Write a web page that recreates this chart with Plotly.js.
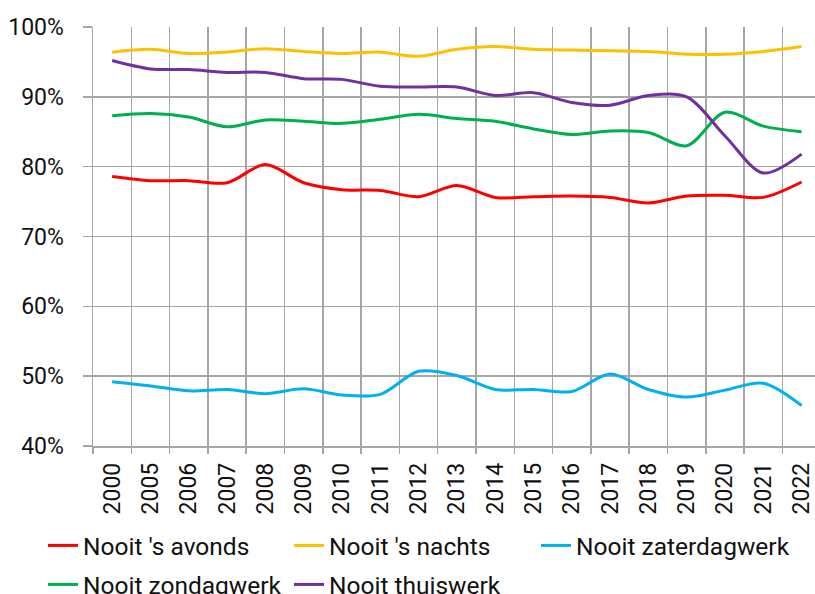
<!DOCTYPE html>
<html>
<head>
<meta charset="utf-8">
<script src="https://cdn.plot.ly/plotly-3.0.1.min.js"></script>
<style>
  html, body { margin: 0; padding: 0; overflow: hidden; background: #fff; }
  #chart { width: 815px; height: 594px; }
</style>
</head>
<body>
<div id="chart"></div>
<script>
// jaren (categorieen op de x-as)
let jaren = ['2000','2005','2006','2007','2008','2009','2010','2011','2012','2013',
             '2014','2015','2016','2017','2018','2019','2020','2021','2022'];

// percentages per reeks
let nooitAvonds = [78.6, 78.0, 78.0, 77.7, 80.3, 77.7, 76.7, 76.6, 75.7, 77.3,
                   75.6, 75.7, 75.8, 75.6, 74.8, 75.8, 75.9, 75.6, 77.8];
let nooitNachts = [96.4, 96.8, 96.2, 96.4, 96.9, 96.5, 96.2, 96.4, 95.8, 96.8,
                   97.2, 96.8, 96.7, 96.6, 96.5, 96.1, 96.1, 96.5, 97.2];
let nooitZaterdag = [49.2, 48.6, 47.9, 48.1, 47.5, 48.2, 47.3, 47.4, 50.7, 50.1,
                     48.1, 48.1, 47.8, 50.3, 48.1, 47.0, 48.0, 49.0, 45.8];
let nooitZondag = [87.3, 87.6, 87.1, 85.7, 86.7, 86.5, 86.2, 86.8, 87.5, 86.9,
                   86.5, 85.4, 84.6, 85.1, 84.9, 83.0, 87.8, 85.8, 85.0];
let nooitThuis = [95.2, 94.0, 93.9, 93.5, 93.5, 92.6, 92.5, 91.5, 91.4, 91.4,
                  90.2, 90.6, 89.2, 88.8, 90.2, 90.0, 84.4, 79.1, 81.8];

let namen = ["Nooit 's avonds", "Nooit 's nachts", "Nooit zaterdagwerk", "Nooit zondagwerk", "Nooit thuiswerk"];
let kleuren = ['#FF0000', '#FFC000', '#00B0F0', '#00B050', '#7030A0'];
let reeksen = [nooitAvonds, nooitNachts, nooitZaterdag, nooitZondag, nooitThuis];

// legenda-posities (linkerkant in px, bovenkant in px)
let legX = [43, 289, 536, 43, 289];
let legY = [523, 523, 523, 562, 562];

let grijs = '#A6A6A6';
let font = 'Roboto, Arial, sans-serif';

let traces = [];
for (let i = 0; i < reeksen.length; i++) {
    traces.push({
        x: jaren,
        y: reeksen[i],
        name: namen[i],
        type: 'scatter',
        mode: 'lines',
        line: {color: kleuren[i], width: 3, shape: 'spline', smoothing: 0.9},
        legend: i == 0 ? 'legend' : 'legend' + (i + 1)
    });
}

let layout = {
    width: 815,
    height: 594,
    paper_bgcolor: '#fff',
    plot_bgcolor: '#fff',
    showlegend: true,
    font: {family: font, color: '#111', size: 23},
    margin: {l: 93, r: 0, t: 27, b: 148, pad: 0, autoexpand: false},
    xaxis: {
        type: 'category',
        range: [-0.5, 18.35],
        tickson: 'boundaries',
        showgrid: true,
        gridcolor: grijs,
        gridwidth: 1.5,
        showline: true,
        linecolor: grijs,
        linewidth: 1.5,
        ticks: 'outside',
        ticklen: 6,
        tickcolor: grijs,
        tickwidth: 1.5,
        tickangle: -90,
        ticklabelstandoff: 6,
        tickfont: {family: font, size: 23, color: '#111'},
        automargin: false,
        fixedrange: true
    },
    yaxis: {
        range: [40, 100],
        dtick: 10,
        ticksuffix: '%',
        showgrid: true,
        gridcolor: grijs,
        gridwidth: 1.5,
        zeroline: false,
        showline: true,
        linecolor: grijs,
        linewidth: 1.5,
        ticks: 'outside',
        ticklen: 9,
        tickcolor: grijs,
        tickwidth: 1.5,
        ticklabelstandoff: 14,
        tickfont: {family: font, size: 23, color: '#111'},
        automargin: false,
        fixedrange: true
    }
};

for (let i = 0; i < reeksen.length; i++) {
    let key = i == 0 ? 'legend' : 'legend' + (i + 1);
    layout[key] = {
        orientation: 'v',
        xref: 'container', yref: 'container',
        x: legX[i] / 815, xanchor: 'left',
        y: 1 - legY[i] / 594, yanchor: 'top',
        itemwidth: 30,
        font: {family: font, size: 24.5, color: '#111'},
        bgcolor: 'rgba(0,0,0,0)',
        borderwidth: 0
    };
}

Plotly.newPlot('chart', traces, layout, {displayModeBar: false, staticPlot: true});
</script>
</body>
</html>
